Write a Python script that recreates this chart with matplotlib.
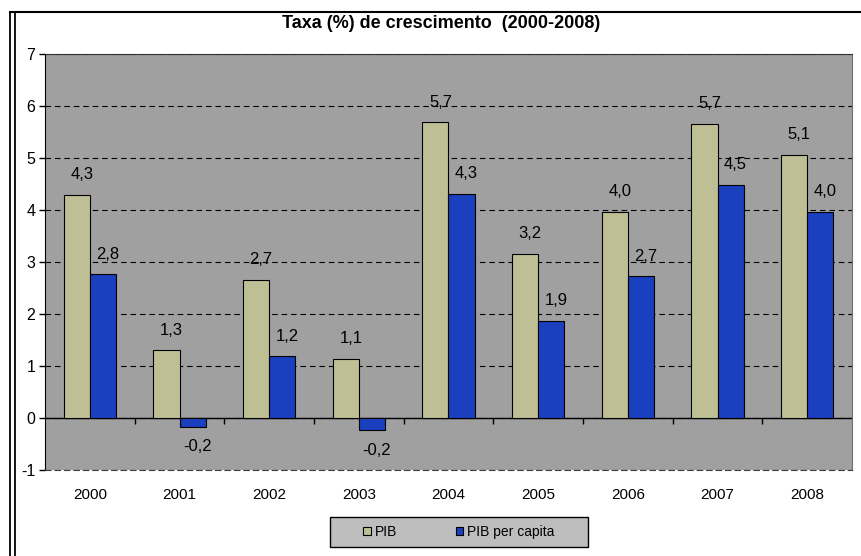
import matplotlib
matplotlib.use('Agg')
import matplotlib.pyplot as plt
import numpy as np
from matplotlib.patches import Patch, Rectangle
from matplotlib.lines import Line2D

plt.rcParams['font.family'] = ['Liberation Sans', 'DejaVu Sans']
plt.rcParams['axes.unicode_minus'] = False

# data (labels are rounded to one decimal)
years = ['2000', '2001', '2002', '2003', '2004', '2005', '2006', '2007', '2008']
pib = [4.29, 1.30, 2.66, 1.14, 5.69, 3.16, 3.97, 5.66, 5.06]
pib_per_capita = [2.76, -0.17, 1.19, -0.24, 4.31, 1.87, 2.73, 4.49, 3.97]
series_names = ['PIB', 'PIB per capita']
colors = ['#bfbf96', '#1a3fbf']

W, H = 861, 556
fig = plt.figure(figsize=(W / 100, H / 100), dpi=100)
ax = fig.add_axes([45 / W, 86 / H, 807 / W, 416 / H])
ax.set_facecolor('#a0a0a0')

x = np.arange(len(years))
w = 0.29
bars1 = ax.bar(x - w / 2, pib, w, color=colors[0], edgecolor='black', linewidth=0.8, zorder=3)
bars2 = ax.bar(x + w / 2, pib_per_capita, w, color=colors[1], edgecolor='black', linewidth=0.8, zorder=3)

ax.set_xlim(-0.5, len(years) - 0.5)
ax.set_ylim(-1, 7)
ax.set_yticks(range(-1, 8))
ax.yaxis.grid(True, color='black', linestyle=(0, (5, 3.5)), linewidth=0.8)
ax.set_axisbelow(True)
ax.axhline(0, color='black', linewidth=1, zorder=2)

ax.set_xticks(x, years)
ax.tick_params(axis='x', length=0, pad=13, labelsize=11)
ax.tick_params(axis='y', length=4, width=1, pad=3, labelsize=11.5)

# small category separator ticks hanging under the zero line
y0, y1 = ax.get_ylim()
sec = ax.secondary_xaxis((0 - y0) / (y1 - y0))
sec.set_xticks(np.arange(0.5, len(years) - 1, 1))
sec.tick_params(axis='x', length=4, width=1, direction='out', labelbottom=False, labeltop=False)
for s in sec.spines.values():
    s.set_visible(False)

ax.spines['left'].set_color('black')
ax.spines['top'].set_color('#303030')
ax.spines['right'].set_color('#707070')
ax.spines['bottom'].set_color('#404040')
ax.spines['bottom'].set_linestyle((0, (5, 3.5)))


def fmt(v):
    return f'{v:.1f}'.replace('.', ',')


for bars, vals in [(bars1, pib), (bars2, pib_per_capita)]:
    for rect, v in zip(bars, vals):
        ax.annotate(fmt(v), (rect.get_x() + rect.get_width() / 2, v),
                    xytext=(5, 20 if v >= 0 else -20), textcoords='offset pixels',
                    ha='center', va='center', fontsize=12, zorder=4)

fig.text(441 / W, 1 - 24 / H, 'Taxa (%) de crescimento  (2000-2008)',
         ha='center', va='center', fontsize=13, fontweight='bold')

# legend box
fig.add_artist(Rectangle((330 / W, 1 - 547 / H), 258 / W, 30 / H, transform=fig.transFigure,
                         facecolor='#bebebe', edgecolor='black', linewidth=1, zorder=1))
handles = [Patch(facecolor=c, edgecolor='black', linewidth=0.8) for c in colors]
fig.legend(handles, series_names, loc='center', bbox_to_anchor=(459 / W, 1 - 532 / H),
           ncol=2, frameon=False, fontsize=10, handlelength=0.55, handleheight=0.55,
           handletextpad=0.3, columnspacing=4.2)

# outer chart frame (double line on the left, single on top)
for xp in (10, 15):
    fig.add_artist(Line2D([xp / W, xp / W], [0, 1 - 12 / H], transform=fig.transFigure,
                          color='black', linewidth=1.3))
fig.add_artist(Line2D([10 / W, 1], [1 - 12 / H, 1 - 12 / H], transform=fig.transFigure,
                      color='black', linewidth=1.5))

fig.savefig('out.png', dpi=100)
